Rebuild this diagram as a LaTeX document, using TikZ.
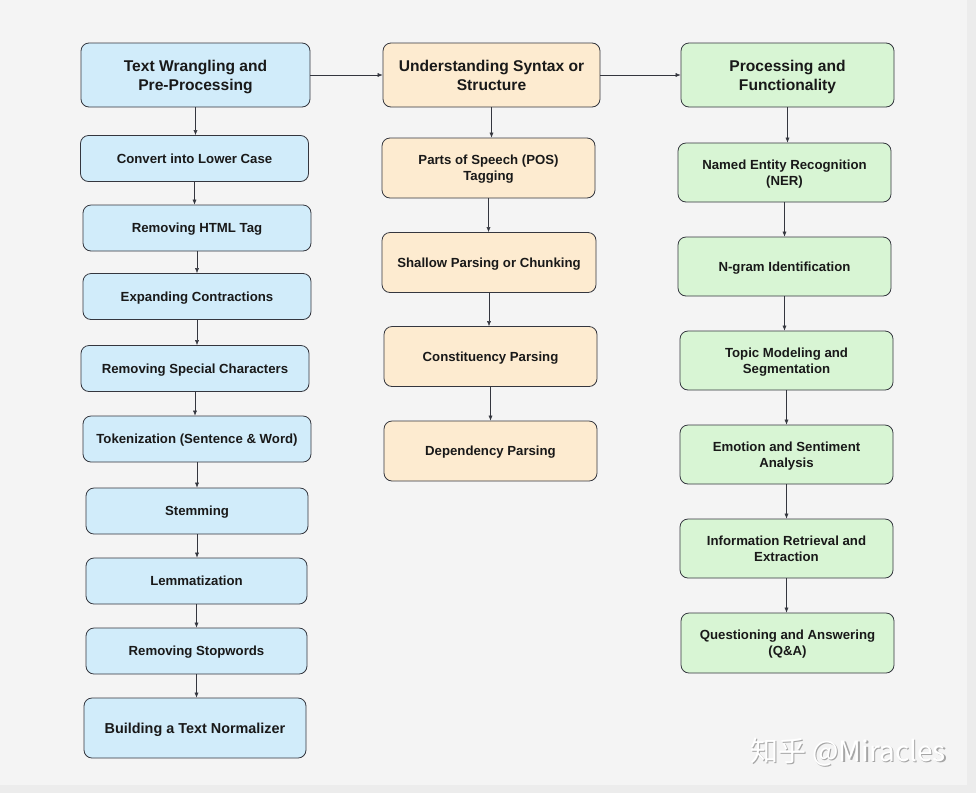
\documentclass[tikz,border=0pt]{standalone}
\usepackage{fontspec}
\setmainfont{Liberation Sans}
\newfontfamily\cjkfont{Noto Sans CJK SC}
\usepackage{tikz}
\usetikzlibrary{arrows.meta}

\definecolor{bgpaper}{RGB}{244,244,244}
\definecolor{bgedge}{RGB}{236,236,236}
\definecolor{wrangfill}{RGB}{209,236,250}
\definecolor{syntfill}{RGB}{253,235,208}
\definecolor{funcfill}{RGB}{216,245,212}
\definecolor{edge}{RGB}{52,54,62}

\tikzset{
  box/.style={draw=edge, line width=0.8pt, rounded corners=8pt, align=center,
    text=black!90, font=\bfseries\fontsize{13.2}{16}\selectfont, inner sep=2pt,
    text depth=0pt},
  head/.style={box, font=\bfseries\fontsize{15.6}{19}\selectfont},
  wrang/.style={box, fill=wrangfill, minimum width=228pt, minimum height=46pt},
  synt/.style={box, fill=syntfill, minimum width=213pt, minimum height=60pt},
  func/.style={box, fill=funcfill, minimum width=213pt, minimum height=59pt},
}

\begin{document}
\begin{tikzpicture}[x=1pt,y=-1pt,>={Latex[length=5pt,width=4pt]}]

\useasboundingbox (0,0) rectangle (976,793);
\fill[bgedge] (0,0) rectangle (976,793);
\fill[bgpaper] (0,0) rectangle (967,785);

% text wrangling
\node[head, fill=wrangfill, minimum width=229pt, minimum height=64pt] (t0) at (195.5,75) {Text Wrangling and\\Pre-Processing};
\node[wrang] (t1) at (194.5,158.5) {Convert into Lower Case};
\node[wrang] (t2) at (197,228) {Removing HTML Tag};
\node[wrang] (t3) at (197,296.5) {Expanding Contractions};
\node[wrang] (t4) at (195,368.5) {Removing Special Characters};
\node[wrang] (t5) at (197,439) {Tokenization (Sentence \& Word)};
\node[wrang, minimum width=222pt] (t6) at (197,511) {Stemming};
\node[wrang, minimum width=221pt] (t7) at (196.5,581) {Lemmatization};
\node[wrang, minimum width=221pt] (t8) at (196.5,651) {Removing Stopwords};
\node[wrang, minimum width=222pt, minimum height=60pt, font=\bfseries\fontsize{14.4}{17}\selectfont] (t9) at (195,728) {Building a Text Normalizer};

% syntax
\node[head, fill=syntfill, minimum width=217pt, minimum height=64pt] (s0) at (491.5,75) {Understanding Syntax or\\Structure};
\node[synt] (s1) at (488.5,168) {Parts of Speech (POS)\\Tagging};
\node[synt, minimum width=214pt] (s2) at (489,262.5) {Shallow Parsing or Chunking};
\node[synt] (s3) at (490.5,356.5) {Constituency Parsing};
\node[synt] (s4) at (490.5,451) {Dependency Parsing};

% functionality
\node[head, fill=funcfill, minimum width=213pt, minimum height=64pt] (p0) at (787.5,75) {Processing and\\Functionality};
\node[func] (p1) at (784.5,172.5) {Named Entity Recognition\\(NER)};
\node[func] (p2) at (784.5,266.5) {N-gram Identification};
\node[func] (p3) at (786.5,360.5) {Topic Modeling and\\Segmentation};
\node[func] (p4) at (786.5,454.5) {Emotion and Sentiment\\Analysis};
\node[func] (p5) at (786.5,548.5) {Information Retrieval and\\Extraction};
\node[func, minimum height=60pt] (p6) at (787.5,643) {Questioning and Answering\\(Q\&A)};

\node[text=black!35, font=\cjkfont\fontsize{28}{32}\selectfont] (wm2) at (849.5,753.5) {知乎 @Miracles};
\node[text=white, font=\cjkfont\fontsize{28}{32}\selectfont] (wm) at (848,752) {知乎 @Miracles};

\draw[->, edge] (t0) -- (s0);
\draw[->, edge] (s0) -- (p0);

\draw[->, edge] (t0.south) -- (t0.south |- t1.north);
\draw[->, edge] (t1.south) -- (t1.south |- t2.north);
\draw[->, edge] (t2.south) -- (t2.south |- t3.north);
\draw[->, edge] (t3.south) -- (t3.south |- t4.north);
\draw[->, edge] (t4.south) -- (t4.south |- t5.north);
\draw[->, edge] (t5.south) -- (t5.south |- t6.north);
\draw[->, edge] (t6.south) -- (t6.south |- t7.north);
\draw[->, edge] (t7.south) -- (t7.south |- t8.north);
\draw[->, edge] (t8.south) -- (t8.south |- t9.north);

\draw[->, edge] (s0.south) -- (s0.south |- s1.north);
\draw[->, edge] (s1.south) -- (s1.south |- s2.north);
\draw[->, edge] (s2.south) -- (s2.south |- s3.north);
\draw[->, edge] (s3.south) -- (s3.south |- s4.north);

\draw[->, edge] (p0.south) -- (p0.south |- p1.north);
\draw[->, edge] (p1.south) -- (p1.south |- p2.north);
\draw[->, edge] (p2.south) -- (p2.south |- p3.north);
\draw[->, edge] (p3.south) -- (p3.south |- p4.north);
\draw[->, edge] (p4.south) -- (p4.south |- p5.north);
\draw[->, edge] (p5.south) -- (p5.south |- p6.north);

\end{tikzpicture}
\end{document}
